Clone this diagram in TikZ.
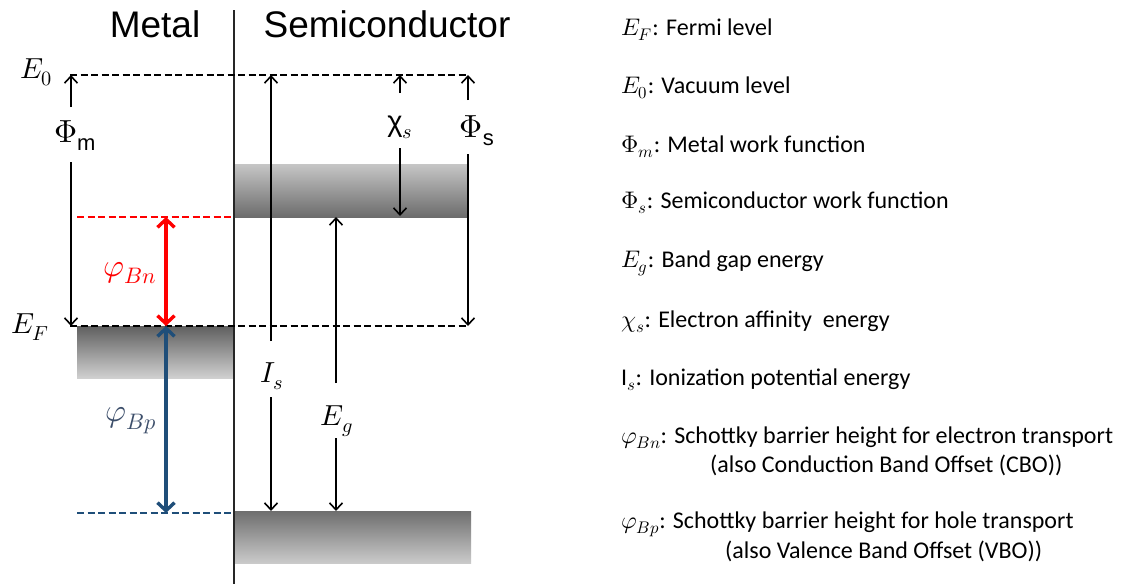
\documentclass[tikz,border=0pt]{standalone}
\usepackage{fontspec}
\usepackage{unicode-math}
\setmainfont{Carlito}
\setmathfont{Latin Modern Math}
\newfontfamily\arialf{Liberation Sans}
\usetikzlibrary{arrows.meta}
\definecolor{bnred}{RGB}{255,0,0}
\definecolor{bpblue}{RGB}{31,78,121}
\definecolor{bptext}{RGB}{60,78,106}
\begin{document}
\begin{tikzpicture}[x=1pt,y=-1pt,
  lvl/.style={line width=1.8pt, dash pattern=on 7pt off 3.5pt},
  arr/.style={line width=1.6pt, -{Straight Barb[length=7pt,width=13pt,line width=1.6pt]}},
  barr/.style={line width=3.4pt, {Straight Barb[length=8pt,width=17pt,line width=3.4pt]}-{Straight Barb[length=8pt,width=17pt,line width=3.4pt]}},
  head/.style={font=\arialf\fontsize{37}{42}\selectfont, anchor=base, inner sep=0pt},
  mlab/.style={font=\fontsize{29}{33}\selectfont, inner sep=0pt},
  glab/.style={font=\fontsize{32}{36}\selectfont, inner sep=0pt},
  leg/.style={font=\fontsize{24}{28}\selectfont, anchor=base west, inner sep=0pt},
  band/.style={draw=none}]
\useasboundingbox (0,0) rectangle (1122,584);
\fill[white] (0,0) rectangle (1122,584);

% bands
\shade[band, top color={rgb,255:red,198;green,198;blue,198}, bottom color={rgb,255:red,108;green,108;blue,108}] (234,164) rectangle (467,217);
\shade[band, top color={rgb,255:red,95;green,95;blue,95}, bottom color={rgb,255:red,208;green,208;blue,208}] (77,326) rectangle (234,378);
\shade[band, top color={rgb,255:red,110;green,110;blue,110}, bottom color={rgb,255:red,202;green,202;blue,202}] (234,511) rectangle (471,563);

% coordinates
\coordinate (e0L) at (70,75);   \coordinate (e0R) at (468,75);
\coordinate (efL) at (70,326);  \coordinate (efR) at (468,326);
\coordinate (cbL) at (77,217);  \coordinate (cbR) at (234,217);
\coordinate (vbL) at (77,513);  \coordinate (vbR) at (234,513);
\coordinate (divT) at (234,10); \coordinate (divB) at (234,584);

% divider and levels
\draw[line width=1.8pt, black!85] (divT) -- (divB);
\draw[lvl] (e0L) -- (e0R);
\draw[lvl] (efL) -- (efR);
\draw[lvl, bnred] (cbL) -- (cbR);
\draw[lvl, bpblue] (vbL) -- (vbR);

% headings
\node[head] (metal) at (155,37) {Metal};
\node[head] (semi) at (387,37) {Semiconductor};

% labels
\node[mlab, anchor=base west] (E0) at (20,78) {$E_0$};
\node[mlab, anchor=base west] (EF) at (11,333) {$E_F$};
\node[glab] (phim) at (75,136) {$\Phi_{\text{\arialf\fontsize{22}{24}\selectfont m}}$};
\node[mlab] (chis) at (400,127) {{\arialf χ}$_{s}$};
\node[glab] (phis) at (477,131) {$\Phi_{\text{\arialf\fontsize{22}{24}\selectfont s}}$};
\node[mlab] (Is) at (272,376) {$I_s$};
\node[mlab] (Eg) at (337,421) {$E_g$};
\node[glab, text=bnred] (phibn) at (130,273) {$\varphi_{Bn}$};
\node[glab, text=bptext] (phibp) at (131,421) {$\varphi_{Bp}$};

% arrow endpoints
\coordinate (pmA) at (71,107); \coordinate (pmT) at (71,75);
\coordinate (pmB) at (71,162); \coordinate (pmE) at (71,326);
\coordinate (isA) at (271,341); \coordinate (isT) at (271,75);
\coordinate (isB) at (271,397); \coordinate (isE) at (271,511);
\coordinate (chA) at (400,93);  \coordinate (chT) at (400,75);
\coordinate (chB) at (400,148); \coordinate (chE) at (400,216);
\coordinate (psA) at (468,100); \coordinate (psT) at (468,75);
\coordinate (psB) at (468,154); \coordinate (psE) at (468,326);
\coordinate (egA) at (336,383); \coordinate (egT) at (336,217);
\coordinate (egB) at (336,438); \coordinate (egE) at (336,511);
\coordinate (bnT) at (166,217); \coordinate (bnB) at (166,326);
\coordinate (bpB) at (166,513);

\draw[arr] (pmA) -- (pmT);
\draw[arr] (pmB) -- (pmE);
\draw[arr] (isA) -- (isT);
\draw[arr] (isB) -- (isE);
\draw[arr] (chA) -- (chT);
\draw[arr] (chB) -- (chE);
\draw[arr] (psA) -- (psT);
\draw[arr] (psB) -- (psE);
\draw[arr] (egA) -- (egT);
\draw[arr] (egB) -- (egE);
\draw[barr, bnred] (bnT) -- (bnB);
\draw[barr, bpblue] (bnB) -- (bpB);

% legend
\node[leg] (l1) at (621,35) {$E_F$: Fermi level};
\node[leg] (l2) at (621,93) {$E_0$: Vacuum level};
\node[leg] (l3) at (621,152) {$\Phi_m$: Metal work function};
\node[leg] (l4) at (621,208) {$\Phi_s$: Semiconductor work function};
\node[leg] (l5) at (621,267) {$E_g$: Band gap energy};
\node[leg] (l6) at (621,327) {$\chi_s$: Electron affinity\ \ energy};
\node[leg] (l7) at (621,385) {$\mathrm{I}_s$: Ionization potential energy};
\node[leg] (l8) at (621,443) {$\varphi_{Bn}$: Schottky barrier height for electron transport};
\node[leg] (l8b) at (710,472) {(also Conduction Band Offset (CBO))};
\node[leg] (l9) at (621,528) {$\varphi_{Bp}$: Schottky barrier height for hole transport};
\node[leg] (l9b) at (725,558) {(also Valence Band Offset (VBO))};
\end{tikzpicture}
\end{document}
